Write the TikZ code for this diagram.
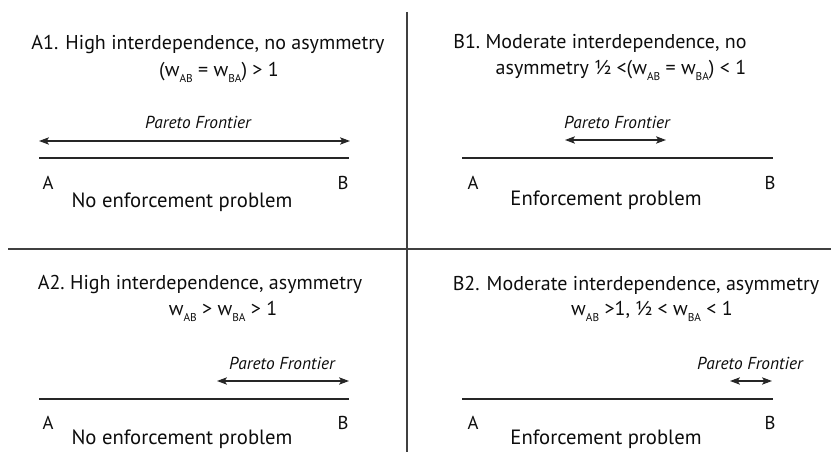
\documentclass[tikz,border=0pt]{standalone}
\usepackage{fontspec}
\setmainfont{PT Sans}
\usetikzlibrary{arrows.meta}
\newcommand{\wsub}[1]{w\raisebox{-0.6ex}{\fontsize{8.5}{9}\selectfont #1}}

\begin{document}
\begin{tikzpicture}[x=0.75pt,y=0.75pt,
		every node/.style={text=black!95,inner sep=1pt},
		heading/.style={font=\fontsize{15}{17}\selectfont},
		note/.style={font=\fontsize{15.5}{17}\selectfont},
		pareto/.style={font=\fontsize{13}{15}\selectfont\itshape},
		endpt/.style={font=\fontsize{14}{16}\selectfont},
		frontier/.style={{Stealth[length=7.5pt,width=5.5pt,inset=1.8pt]}-{Stealth[length=7.5pt,width=5.5pt,inset=1.8pt]},line width=0.8pt,color=black!85},
		divider/.style={line width=0.9pt,color=black!75},
		segment/.style={line width=0.8pt,color=black!85}]
	\useasboundingbox (0,0) rectangle (831,452);

	% quadrant dividers
	\coordinate (vtop) at (407,440);
	\coordinate (vbot) at (407,0);
	\coordinate (hleft) at (8,203);
	\coordinate (hright) at (831,203);
	\path[divider]
		(vtop) edge (vbot)
		(hleft) edge (hright);

	% A1
	\node[heading] at (208,407)(a1title){A1. High interdependence, no asymmetry};
	\node[heading] at (219,380)(a1cond){(\wsub{AB} = \wsub{BA}) > 1};
	\node[pareto] at (198,330)(a1pf){Pareto Frontier};
	\coordinate (a1pl) at (39,311);
	\coordinate (a1pr) at (350,311);
	\coordinate (a1l) at (39,294);
	\coordinate (a1r) at (349,294);
	\node[endpt] at (48,269)(a1A){A};
	\node[endpt] at (343,269)(a1B){B};
	\node[note] at (182,250)(a1note){No enforcement problem};
	\path[frontier] (a1pl) edge (a1pr);
	\path[segment] (a1l) edge (a1r);

	% B1
	\node[heading] at (600,409)(b1title){B1.\ Moderate interdependence, no};
	\node[heading] at (621,382)(b1cond){asymmetry ½ <(\wsub{AB} = \wsub{BA}) < 1};
	\node[pareto] at (617,330)(b1pf){Pareto Frontier};
	\coordinate (b1pl) at (565,312);
	\coordinate (b1pr) at (666,312);
	\coordinate (b1l) at (462,294);
	\coordinate (b1r) at (773,294);
	\node[endpt] at (473,269)(b1A){A};
	\node[endpt] at (770,269)(b1B){B};
	\node[note] at (606,252)(b1note){Enforcement problem};
	\path[frontier] (b1pl) edge (b1pr);
	\path[segment] (b1l) edge (b1r);

	% A2
	\node[heading] at (200,167)(a2title){A2.\ High interdependence, asymmetry};
	\node[heading] at (223,141)(a2cond){\wsub{AB} > \wsub{BA} > 1};
	\node[pareto] at (282,89)(a2pf){Pareto Frontier};
	\coordinate (a2pl) at (217,71);
	\coordinate (a2pr) at (349,71);
	\coordinate (a2l) at (39,53);
	\coordinate (a2r) at (349,53);
	\node[endpt] at (48,29)(a2A){A};
	\node[endpt] at (343,29)(a2B){B};
	\node[note] at (182,13)(a2note){No enforcement problem};
	\path[frontier] (a2pl) edge (a2pr);
	\path[segment] (a2l) edge (a2r);

	% B2
	\node[heading] at (636,167)(b2title){B2. Moderate interdependence, asymmetry};
	\node[heading] at (652,141)(b2cond){\wsub{AB} >1, ½ < \wsub{BA} < 1};
	\node[pareto] at (750,89)(b2pf){Pareto Frontier};
	\coordinate (b2pl) at (730,71);
	\coordinate (b2pr) at (772,71);
	\coordinate (b2l) at (462,53);
	\coordinate (b2r) at (773,53);
	\node[endpt] at (473,29)(b2A){A};
	\node[endpt] at (770,29)(b2B){B};
	\node[note] at (606,13)(b2note){Enforcement problem};
	\path[frontier] (b2pl) edge (b2pr);
	\path[segment] (b2l) edge (b2r);
\end{tikzpicture}
\end{document}
